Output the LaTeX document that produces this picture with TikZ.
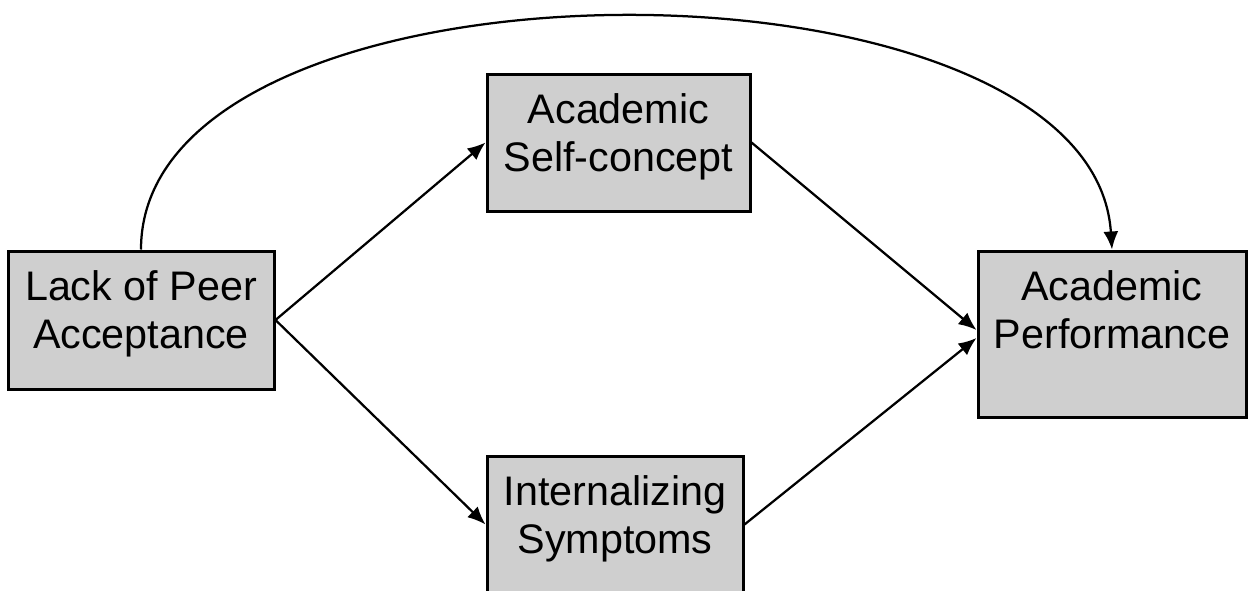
\documentclass[tikz,border=0pt]{standalone}
\usepackage{fontspec}
\setmainfont{Liberation Sans}
\usetikzlibrary{arrows.meta, positioning}
\definecolor{boxgray}{RGB}{207,207,207}

\begin{document}
\begin{tikzpicture}[%
        > = {Latex[length = 0.36cm, width = 0.30cm]},
        line width = 0.45mm,
        box/.style = {%
            draw,
            fill = boxgray,
            line width = 0.6mm,
            inner sep = 0pt
        },
        txt/.style = {%
            align = center,
            inner sep = 0pt,
            font = \fontsize{23.5}{27.3}\selectfont
        }
    ]

        % Size of the picture.
        \useasboundingbox (0.0, 0.0) rectangle (24.96, -11.8);

        % Boxes:
        \node[box, minimum width = 5.32cm, minimum height = 2.76cm] (lack)   at (2.82, -6.40)  {};
        \node[box, minimum width = 5.26cm, minimum height = 2.74cm] (self)   at (12.37, -2.85) {};
        \node[box, minimum width = 5.12cm, minimum height = 2.74cm] (intern) at (12.30, -10.49) {};
        \node[box, minimum width = 5.36cm, minimum height = 3.32cm] (perf)   at (22.24, -6.68) {};

        % Texts in the boxes.
        \node[txt, below = 0.40cm of lack.north]   (lacktxt)   {Lack of Peer\\Acceptance};
        \node[txt, below = 0.40cm of self.north]   (selftxt)   {Academic\\Self-concept};
        \node[txt, below = 0.40cm of intern.north] (interntxt) {Internalizing\\Symptoms};
        \node[txt, below = 0.40cm of perf.north]   (perftxt)   {Academic\\Performance};

        % Paths through the mediators.
        \draw[->] (lack.east) to (self.west);
        \draw[->] (lack.east) to (intern.west);
        \draw[->] (self.east) to ([yshift = 0.08cm] perf.west);
        \draw[->] (intern.east) to ([yshift = -0.08cm] perf.west);

        % Direct path.
        \draw[->] (lack.north) .. controls +(0.0, 6.2) and +(-0.4, 6.2) .. (perf.north);
    \end{tikzpicture}
\end{document}
